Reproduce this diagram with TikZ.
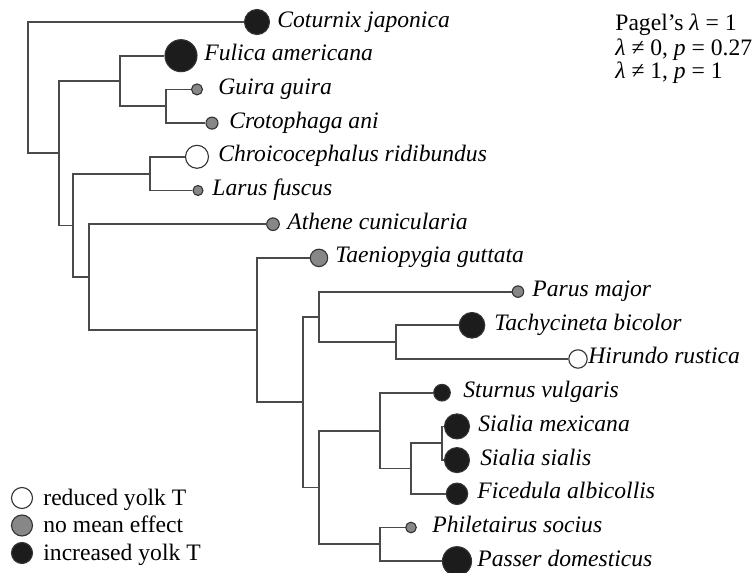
\documentclass[tikz,border=0pt]{standalone}
\usepackage{fontspec}
\setmainfont{Liberation Serif}
\usepackage{xcolor}
\definecolor{branchgray}{HTML}{4A4A4A}
\definecolor{incr}{HTML}{1C1C1C}
\definecolor{nome}{HTML}{878787}
\definecolor{redu}{HTML}{FFFFFF}

\begin{document}
\begin{tikzpicture}[x=0.5pt,y=-0.5pt]
\tikzset{branch/.style={draw=branchgray,line width=0.9pt}}
\tikzset{tip/.style={circle,draw=black!80,line width=0.55pt,inner sep=0pt}}
\tikzset{species/.style={font=\fontsize{11.8}{14}\selectfont\itshape,inner sep=0pt,anchor=base west}}
\tikzset{keytext/.style={font=\fontsize{11.8}{14}\selectfont,inner sep=0pt,anchor=base west}}

\useasboundingbox (0,0) rectangle (752,573);

\foreach \n/\cx/\k/\r/\f/\tx/\t in {cotu/257/0/12.5/incr/277/Coturnix japonica,
  fuli/181/1/16/incr/204/Fulica americana, guir/197/2/5.5/nome/218/Guira guira,
  crot/212/3/6/nome/229/Crotophaga ani, chro/197/4/11.5/redu/218/Chroicocephalus ridibundus,
  laru/198/5/5/nome/212/Larus fuscus, athe/273/6/6.3/nome/287/Athene cunicularia,
  taen/319/7/8.7/nome/335/Taeniopygia guttata, paru/518/8/5.7/nome/532/Parus major,
  tach/472/9/12.8/incr/494/Tachycineta bicolor, hiru/578/10/9.2/redu/588/Hirundo rustica,
  stur/442/11/8.3/incr/463/Sturnus vulgaris, smex/457/12/12.5/incr/478/Sialia mexicana,
  ssia/457/13/12.5/incr/480/Sialia sialis, fice/457/14/10.7/incr/477/Ficedula albicollis,
  phil/411/15/5.3/nome/432/Philetairus socius, pass/457/16/14.5/incr/477/Passer domesticus}
{
  \node[tip,fill=\f,minimum size=\r pt] (\n) at (\cx,{22+33.7*\k}) {};
  \node[species] (\n-lab) at (\tx,{27+33.7*\k}) {\t};
}

\coordinate (n1) at (28,87.6);
\coordinate (n2) at (59,153.2);
\coordinate (n3) at (120,81);
\coordinate (n4) at (166,106.25);
\coordinate (n5) at (73,225.4);
\coordinate (n6) at (150,173.65);
\coordinate (n7) at (89,277.1);
\coordinate (n8) at (257,330);
\coordinate (n9) at (303,402.2);
\coordinate (n10) at (319,316.9);
\coordinate (n11) at (396,342.15);
\coordinate (n12) at (319,487.5);
\coordinate (n13) at (380,430.6);
\coordinate (n14) at (411,468.5);
\coordinate (n15) at (442,443.25);
\coordinate (n16) at (380,544.35);

\foreach \p/\c in {n1/cotu,n1/n2,n2/n3,n2/n5,n3/fuli,n3/n4,n4/guir,n4/crot,
  n5/n6,n5/n7,n6/chro,n6/laru,n7/athe,n7/n8,n8/taen,n8/n9,n9/n10,n9/n12,
  n10/paru,n10/n11,n11/tach,n11/hiru,n12/n13,n12/n16,n13/stur,n13/n14,
  n14/n15,n14/fice,n15/smex,n15/ssia,n16/phil,n16/pass}
  \draw[branch] (\c) -| (\p);

\node[tip,fill=redu,minimum size=10.5pt] (kred) at (22,498) {};
\node[keytext] (kred-lab) at (43,505) {reduced yolk T};
\node[tip,fill=nome,minimum size=10.5pt] (knome) at (22,525.5) {};
\node[keytext] (knome-lab) at (43,532.5) {no mean effect};
\node[tip,fill=incr,minimum size=10.5pt] (kinc) at (22,553) {};
\node[keytext] (kinc-lab) at (43,560) {increased yolk T};

\node[keytext] (pagel) at (615,31) {Pagel's \textit{λ} = 1};
\node[keytext] (lam0) at (615,55) {\textit{λ} ≠ 0, \textit{p} = 0.27};
\node[keytext] (lam1) at (615,78) {\textit{λ} ≠ 1, \textit{p} = 1};

\end{tikzpicture}
\end{document}
